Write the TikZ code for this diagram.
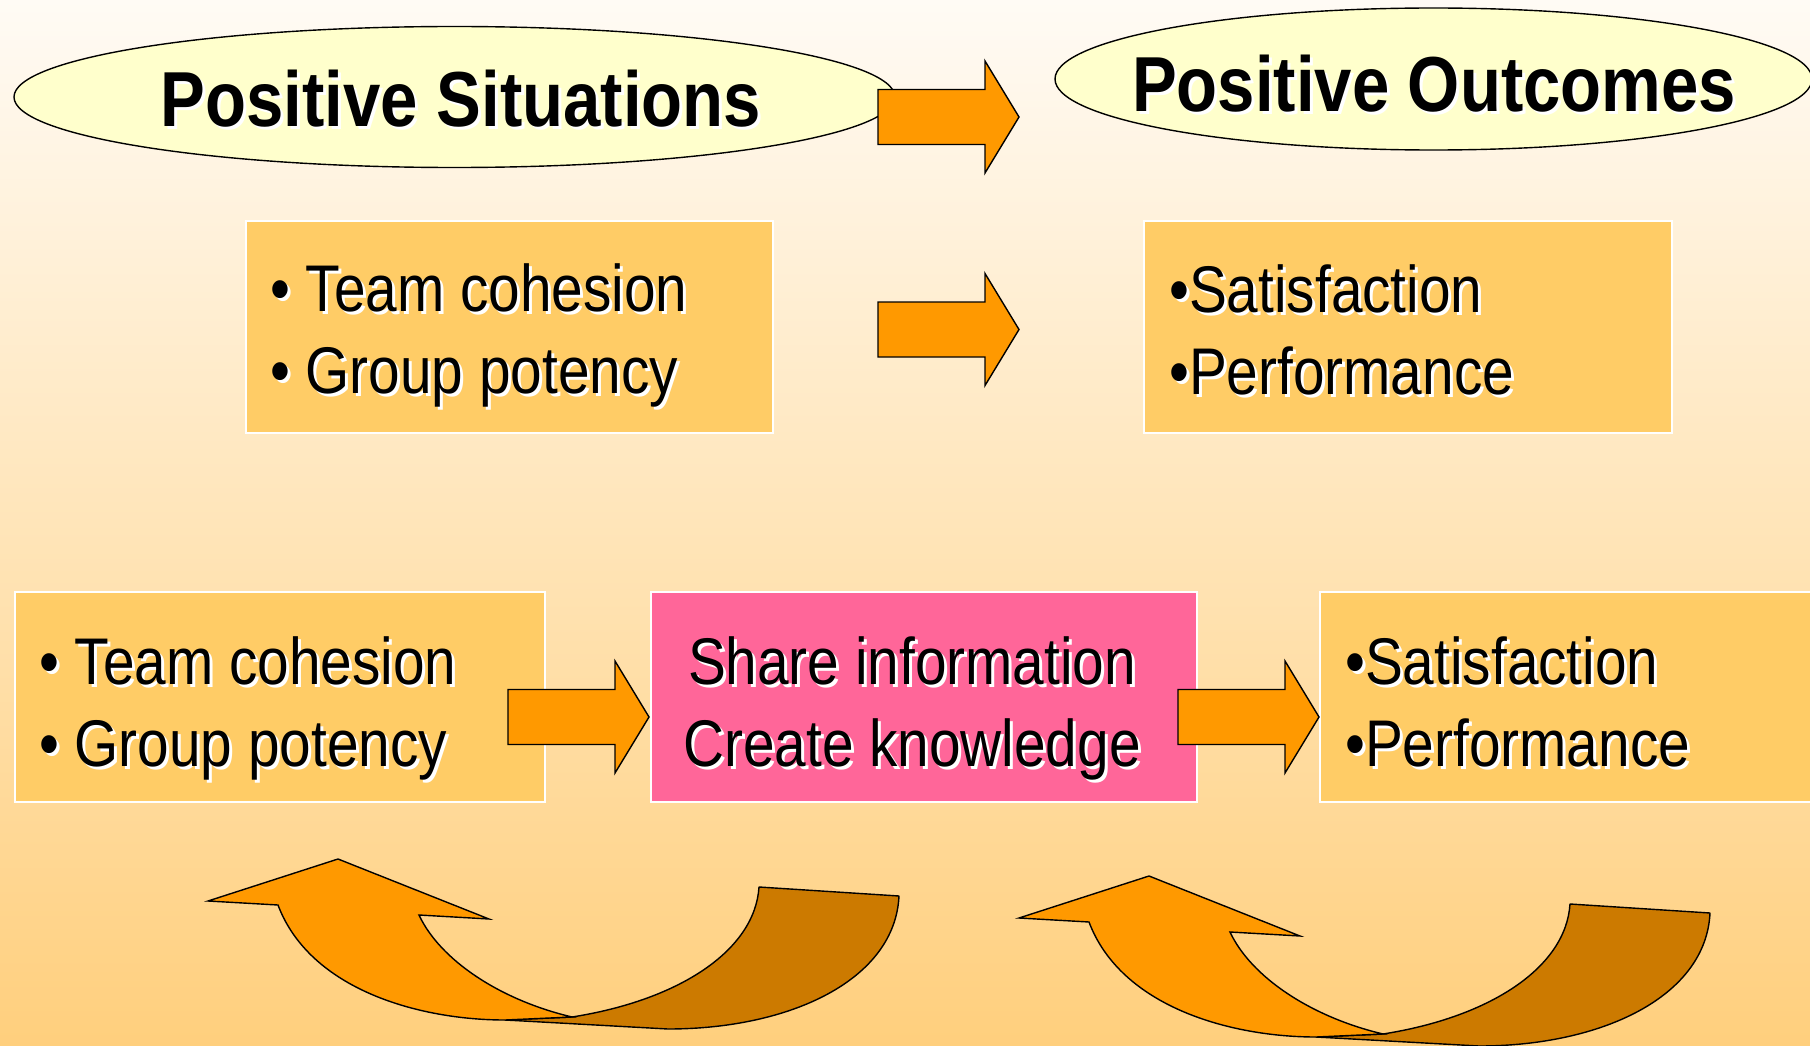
\documentclass[tikz,border=0pt]{standalone}
\usepackage{fontspec}
\setmainfont{Liberation Sans}[FakeStretch=0.86]
\usetikzlibrary{shapes.geometric}

\definecolor{bgtop}{RGB}{255,251,245}
\definecolor{bgbot}{RGB}{255,207,125}
\definecolor{ovalfill}{RGB}{255,255,204}
\definecolor{boxfill}{RGB}{255,204,102}
\definecolor{pinkfill}{RGB}{255,102,153}
\definecolor{arrowfill}{RGB}{255,153,0}
\definecolor{darkfill}{RGB}{204,122,0}

% text with a white drop shadow, offset right and down
\newcommand\shd[1]{\makebox[0pt][l]{\kern3pt\raisebox{-3pt}{\textcolor{white}{#1}}}#1}

\tikzset{
  oval/.style={ellipse, draw=black, line width=1.4pt, fill=ovalfill, inner sep=0pt},
  titletext/.style={inner sep=0pt, font=\fontsize{78}{90}\selectfont\bfseries},
  itembox/.style={rectangle, draw=white, line width=2pt, fill=boxfill, inner sep=0pt, anchor=north west},
  focusbox/.style={itembox, fill=pinkfill},
  bodytext/.style={inner sep=0pt, align=left, font=\fontsize{66}{82}\selectfont},
  arrowshape/.style={draw=black, line width=1.4pt, fill=arrowfill, line join=miter},
  backshape/.style={draw=black, line width=1.4pt, fill=darkfill, line join=round},
  blockarrow/.pic={
    \draw[arrowshape] (0,-27.5) -- (107,-27.5) -- (107,-56) -- (141,0)
      -- (107,56) -- (107,27.5) -- (0,27.5) -- cycle;
  },
  curvedarrow/.pic={
    % back face of the curved arrow
    \draw[backshape] (572,1017) .. controls (680,1000) and (755,950) .. (759,887)
      -- (899,896) .. controls (895,980) and (790,1029) .. (668,1029)
      -- (505,1020) -- cycle;
    % front face with the arrowhead
    \draw[arrowshape] (278,905) -- (208,901) -- (338,859) -- (489,919) -- (419,915)
      .. controls (440,960) and (500,1000) .. (572,1017)
      -- (505,1020) .. controls (420,1020) and (310,990) .. (278,905) -- cycle;
  }
}

\begin{document}
\begin{tikzpicture}[x=1pt,y=-1pt]
  % page background
  \fill[top color=bgtop, bottom color=bgbot] (0,0) rectangle (1810,1046);
  \useasboundingbox (0,0) rectangle (1810,1046);

  % headings
  \node[oval, minimum width=881pt, minimum height=141pt] (sitOval) at (454.5,97) {};
  \node[oval, minimum width=757pt, minimum height=142pt] (outOval) at (1433.5,79) {};
  \node[titletext, anchor=base] (sitText) at (461,127) {\shd{Positive Situations}};
  \node[titletext, anchor=base] (outText) at (1434,112) {\shd{Positive Outcomes}};

  % direct model (text anchored at the baseline of its last line)
  \node[itembox, minimum width=527pt, minimum height=212pt] (causeA) at (245,220) {};
  \node[itembox, minimum width=528pt, minimum height=212pt] (effectA) at (1143,220) {};
  \node[bodytext, anchor=base west] (causeAText) at (270,393)
    {\shd{• Team cohesion}\\\shd{• Group potency}};
  \node[bodytext, anchor=base west] (effectAText) at (1169,394)
    {\shd{•Satisfaction}\\\shd{•Performance}};

  % mediated model
  \node[itembox, minimum width=530pt, minimum height=210pt] (causeB) at (14,591) {};
  \node[focusbox, minimum width=546pt, minimum height=210pt] (process) at (650,591) {};
  \node[itembox, minimum width=500pt, minimum height=210pt] (effectB) at (1319,591) {};
  \node[bodytext, anchor=base west] (causeBText) at (39,766)
    {\shd{• Team cohesion}\\\shd{• Group potency}};
  \node[bodytext, align=center, anchor=base] (processText) at (912,766)
    {\shd{Share information}\\\shd{Create knowledge}};
  \node[bodytext, anchor=base west] (effectBText) at (1345,766)
    {\shd{•Satisfaction}\\\shd{•Performance}};

  % block arrows between the stages
  \pic at (878,117) {blockarrow};
  \pic at (878,329.5) {blockarrow};
  \pic at (508,717) {blockarrow};
  \pic at (1178,717) {blockarrow};

  % feedback loops
  \pic at (0,0) {curvedarrow};
  \pic at (811,17) {curvedarrow};
\end{tikzpicture}
\end{document}
